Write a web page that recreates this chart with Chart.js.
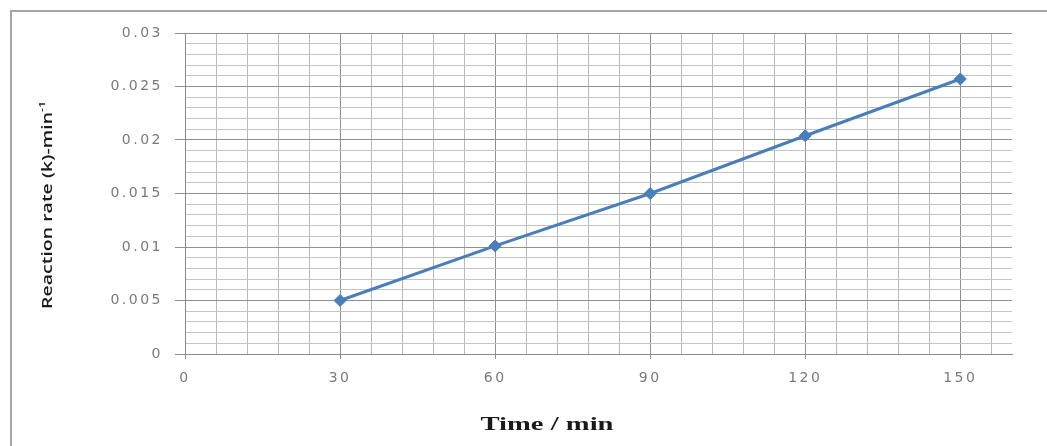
<!DOCTYPE html>
<html><head><meta charset="utf-8">
<script src="https://cdn.jsdelivr.net/npm/chart.js@4.4.1/dist/chart.umd.min.js"></script>
<style>html,body{margin:0;padding:0;background:#fff;} canvas{display:block;}</style>
</head><body>
<canvas id="c" width="1047" height="446"></canvas>
<script>
// ---- data ----
const timeMin = [30, 60, 90, 120, 150];
const reactionRate = [0.005, 0.0101, 0.015, 0.0204, 0.0257];
const xTickLabels = [0, 30, 60, 90, 120, 150];
const yMajorValues = [0, 0.005, 0.01, 0.015, 0.02, 0.025, 0.03];
const yTickLabels = ['0', '0.005', '0.01', '0.015', '0.02', '0.025', '0.03'];
const xTitle = 'Time / min';
const yTitle = 'Reaction rate (k)-min';
const yTitleSup = '-1';
const X_MIN = 0, X_MAX = 160, X_MINOR = 6;
const Y_MIN = 0, Y_MAX = 0.03, Y_MINOR = 0.001;

const isYMajor = v => yMajorValues.some(m => Math.abs(m - v) < 1e-9);
const isXMajor = v => xTickLabels.includes(v);

const LETTER = '2.5px';

const framePlugin = {
  id: 'frame',
  beforeLayout(chart) { chart.ctx.letterSpacing = LETTER; },
  beforeDraw(chart) {
    const ctx = chart.ctx;
    ctx.save();
    ctx.letterSpacing = '0px';
    ctx.fillStyle = '#fff';
    ctx.fillRect(0, 0, chart.width, chart.height);
    ctx.strokeStyle = '#a6a6a6';
    ctx.lineWidth = 2;
    ctx.beginPath();
    ctx.moveTo(11, chart.height);
    ctx.lineTo(11, 11);
    ctx.lineTo(chart.width, 11);
    ctx.stroke();
    ctx.restore();
    ctx.letterSpacing = LETTER;
  },
  afterDraw(chart) {
    const ctx = chart.ctx;
    ctx.save();
    ctx.letterSpacing = '0px';
    ctx.fillStyle = '#1a1a1a';
    // x title
    ctx.font = 'bold 19px "Liberation Serif"';
    ctx.textBaseline = 'middle';
    ctx.textAlign = 'center';
    const wx = ctx.measureText(xTitle).width;
    const sx = 133 / wx;
    ctx.save();
    ctx.translate(547, 425);
    ctx.scale(sx, 1);
    ctx.fillText(xTitle, 0, 0);
    ctx.restore();
    // y title
    ctx.font = '600 16px "Open Sans"';
    const w1 = ctx.measureText(yTitle).width;
    ctx.font = '600 10px "Open Sans"';
    const w2 = ctx.measureText(yTitleSup).width;
    const total = w1 + w2;
    const sy = 208 / total;
    ctx.save();
    ctx.translate(48, 205);
    ctx.rotate(-Math.PI / 2);
    ctx.scale(sy, 0.85);
    ctx.textAlign = 'left';
    ctx.textBaseline = 'middle';
    ctx.font = '600 16px "Open Sans"';
    ctx.fillText(yTitle, -total / 2, 0);
    ctx.font = '600 10px "Open Sans"';
    ctx.fillText(yTitleSup, -total / 2 + w1, -6);
    ctx.restore();
    ctx.restore();
  }
};

new Chart(document.getElementById('c'), {
  type: 'line',
  data: {
    datasets: [{
      data: timeMin.map((t, i) => ({ x: t, y: reactionRate[i] })),
      borderColor: '#4a7ebb',
      borderWidth: 3,
      pointStyle: 'rectRot',
      pointRadius: 6,
      pointBorderWidth: 1,
      pointBackgroundColor: '#4a7ebb',
      pointBorderColor: '#4a7ebb',
      tension: 0,
      fill: false
    }]
  },
  options: {
    responsive: false,
    animation: false,
    devicePixelRatio: 1,
    layout: { padding: { top: 33, right: 35, left: 0, bottom: 0 } },
    plugins: { legend: { display: false }, tooltip: { enabled: false }, title: { display: false } },
    scales: {
      x: {
        type: 'linear',
        min: X_MIN, max: X_MAX,
        afterBuildTicks(scale) {
          const t = [];
          for (let v = X_MIN; v < X_MAX; v += X_MINOR) t.push({ value: v });
          scale.ticks = t;
        },
        afterFit(scale) { scale.height = 92; },
        ticks: {
          autoSkip: false, maxRotation: 0, minRotation: 0,
          padding: 11,
          color: '#7a7a7a',
          font: { family: '"DejaVu Sans"', size: 14 },
          callback: v => isXMajor(v) ? String(v) : ''
        },
        grid: {
          color: c => isXMajor(c.tick.value) ? '#8f8f8f' : '#b8b8b8',
          tickColor: c => isXMajor(c.tick.value) ? '#8f8f8f' : 'rgba(0,0,0,0)',
          tickLength: 5,
          lineWidth: 1
        },
        border: { color: '#8a8a8a', width: 1 }
      },
      y: {
        type: 'linear',
        min: Y_MIN, max: Y_MAX,
        afterBuildTicks(scale) {
          const t = [];
          const n = Math.round((Y_MAX - Y_MIN) / Y_MINOR);
          for (let i = 0; i <= n; i++) t.push({ value: Y_MIN + i * Y_MINOR });
          scale.ticks = t;
        },
        afterFit(scale) { scale.width = 185; },
        ticks: {
          autoSkip: false,
          padding: 12,
          color: '#7a7a7a',
          font: { family: '"DejaVu Sans"', size: 14 },
          callback: v => {
            const idx = yMajorValues.findIndex(m => Math.abs(m - v) < 1e-9);
            return idx >= 0 ? yTickLabels[idx] : '';
          }
        },
        grid: {
          color: c => isYMajor(c.tick.value) ? '#8f8f8f' : '#c4c4c4',
          tickColor: c => isYMajor(c.tick.value) ? '#8f8f8f' : 'rgba(0,0,0,0)',
          tickLength: 10,
          lineWidth: 1
        },
        border: { color: '#8a8a8a', width: 1 }
      }
    }
  },
  plugins: [framePlugin]
});
</script>
</body></html>
